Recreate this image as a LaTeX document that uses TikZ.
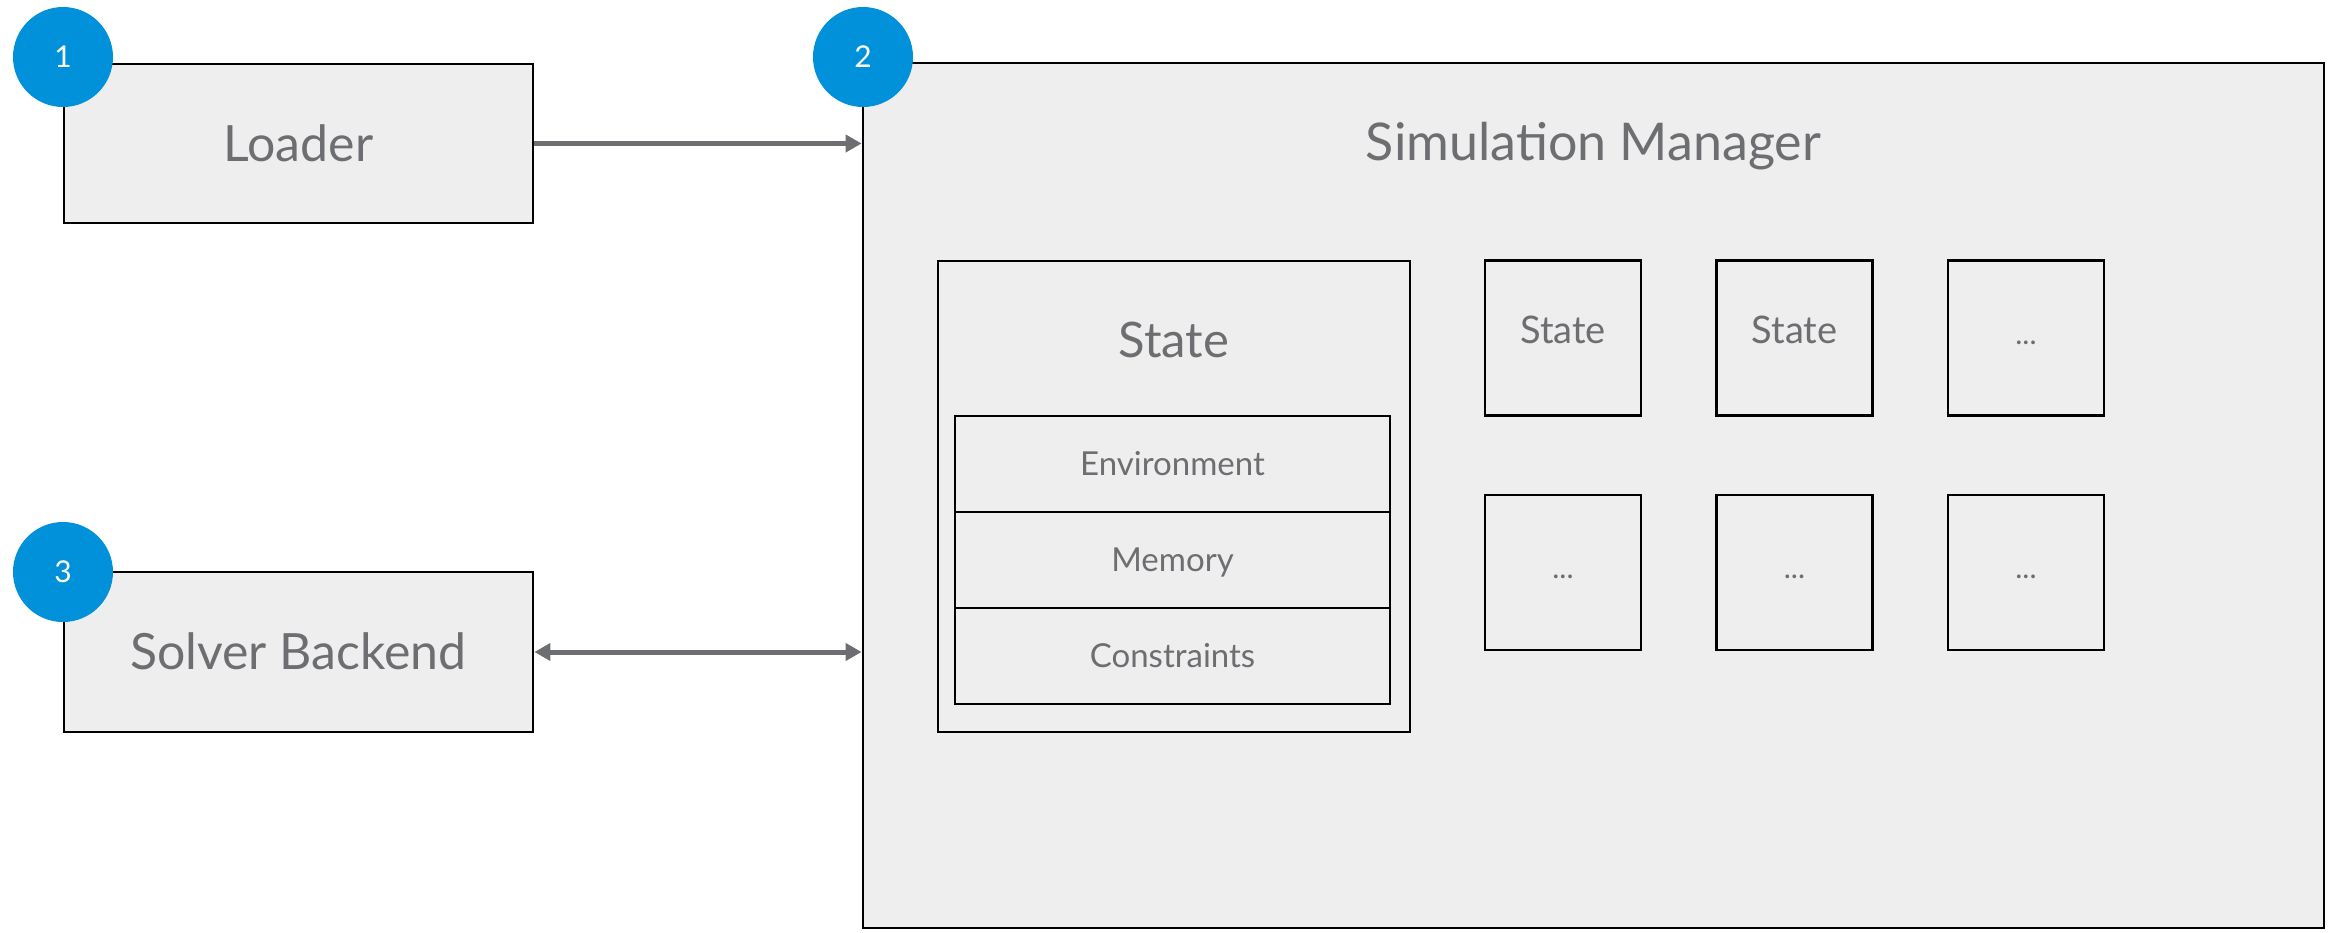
\documentclass[tikz,border=0pt]{standalone}
\usepackage{fontspec}
\setmainfont{Lato}
\usetikzlibrary{arrows.meta}
\definecolor{txtgray}{RGB}{109,110,113}
\definecolor{boxfill}{RGB}{238,238,238}
\definecolor{badge}{RGB}{0,145,218}
\tikzset{
  boxa/.style={draw=black, line width=2.8pt, fill=boxfill, text=txtgray, inner sep=0pt},
  lbl/.style={text=txtgray, inner sep=0pt, anchor=base},
  numbadge/.style={circle, fill=badge, minimum size=100pt, inner sep=0pt, text=white, font=\fontsize{30}{34}\selectfont, text height=21.5pt, text depth=0pt},
  conn/.style={draw=txtgray, line width=5pt, >={Triangle[length=16pt,width=17pt]}}
}
\begin{document}
\begin{tikzpicture}[x=1pt,y=-1pt]
\useasboundingbox (0,0) rectangle (2335,932);
% left boxes
\node[boxa, minimum width=469pt, minimum height=159pt, font=\fontsize{50}{56}\selectfont, text height=35.8pt, text depth=0pt] (loader) at (298.5,143.5) {Loader};
\node[boxa, minimum width=469pt, minimum height=160pt, font=\fontsize{50}{56}\selectfont, text height=35.8pt, text depth=0pt] (solver) at (298.5,652) {Solver Backend};
% simulation manager
\node[boxa, minimum width=1461pt, minimum height=865pt] (sim) at (1593.5,495.5) {};
\node[lbl, font=\fontsize{52}{58}\selectfont] (simlbl) at (1593.5,160) {Simulation Manager};
% big state
\node[boxa, minimum width=472pt, minimum height=471pt] (state) at (1174,496.5) {};
\node[lbl, font=\fontsize{49}{55}\selectfont] (statelbl) at (1174,357) {State};
\node[boxa, minimum width=435pt, minimum height=96pt, font=\fontsize{33}{38}\selectfont, text height=23.6pt, text depth=0pt] (env) at (1172.5,464) {Environment};
\node[boxa, minimum width=435pt, minimum height=96pt, font=\fontsize{33}{38}\selectfont, text height=23.6pt, text depth=0pt] (mem) at (1172.5,560) {Memory};
\node[boxa, minimum width=435pt, minimum height=96pt, font=\fontsize{33}{38}\selectfont, text height=23.6pt, text depth=0pt] (cons) at (1172.5,656) {Constraints};
% small boxes
\node[boxa, minimum width=156pt, minimum height=155pt] (s1) at (1563,338) {};
\node[boxa, minimum width=156pt, minimum height=155pt] (s2) at (1794.5,338) {};
\node[boxa, minimum width=156pt, minimum height=155pt] (s3) at (2026,338) {};
\node[boxa, minimum width=156pt, minimum height=155pt] (s4) at (1563,572.5) {};
\node[boxa, minimum width=156pt, minimum height=155pt] (s5) at (1794.5,572.5) {};
\node[boxa, minimum width=156pt, minimum height=155pt] (s6) at (2026,572.5) {};
\node[lbl, font=\fontsize{38}{42}\selectfont] (t1) at (1563,343) {State};
\node[lbl, font=\fontsize{38}{42}\selectfont] (t2) at (1794.5,343) {State};
\node[lbl, font=\fontsize{30}{34}\selectfont] (t3) at (2026,344) {...};
\node[lbl, font=\fontsize{30}{34}\selectfont] (t4) at (1563,578) {...};
\node[lbl, font=\fontsize{30}{34}\selectfont] (t5) at (1794.5,578) {...};
\node[lbl, font=\fontsize{30}{34}\selectfont] (t6) at (2026,578) {...};
% connectors
\draw[conn, ->] (loader.east) -- (loader.east -| sim.west);
\draw[conn, <->] (solver.east) -- (solver.east -| sim.west);
% badges
\node[numbadge] (b1) at (63,57) {1};
\node[numbadge] (b2) at (863,57) {2};
\node[numbadge] (b3) at (63,572) {3};
\end{tikzpicture}
\end{document}
